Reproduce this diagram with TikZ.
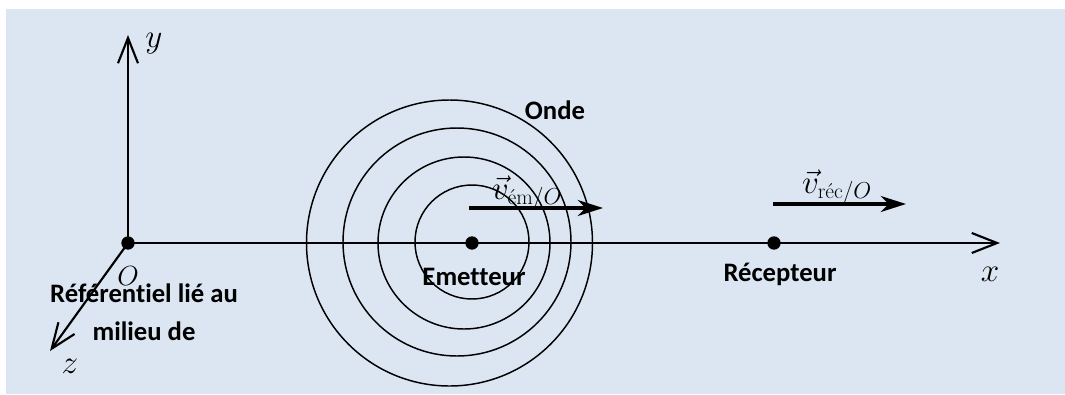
\documentclass[tikz,border=0pt]{standalone}
\usepackage{amsmath}
\usepackage{fontspec}
\newfontfamily\calibrifont[Ligatures=NoCommon]{Carlito}
\usetikzlibrary{arrows.meta}
\definecolor{bgblue}{RGB}{220,230,242}
\begin{document}
\begin{tikzpicture}[x=0.75pt,y=-0.75pt,
  axisline/.style={line width=1.6pt,-{Straight Barb[length=19pt,width=15pt,line width=1.6pt]}},
  velarrow/.style={line width=2.6pt,-{Stealth[length=19pt,width=12pt,inset=6pt]}},
  wave/.style={line width=1.1pt},
  pointdot/.style={circle,fill=black,inner sep=0pt,minimum size=10pt},
  axlabel/.style={font=\fontsize{24}{28}\selectfont,inner sep=0pt},
  vlabel/.style={font=\fontsize{23}{26}\selectfont,inner sep=0pt},
  txt/.style={font=\calibrifont\fontsize{20}{28.5}\selectfont\bfseries,inner sep=0pt,align=center}]
\useasboundingbox (0,0) rectangle (1065,394);
\fill[bgblue] (6,9) rectangle (1065,394);
% waves
\node[wave,draw,circle,minimum size=214.5pt,inner sep=0pt] (w4) at (449.5,243) {};
\node[wave,draw,circle,minimum size=171pt,inner sep=0pt] (w3) at (457,242) {};
\node[wave,draw,circle,minimum size=129pt,inner sep=0pt] (w2) at (464,243) {};
\node[wave,draw,circle,minimum size=85.5pt,inner sep=0pt] (w1) at (472,242) {};
% points
\node[pointdot] (O) at (128,243) {};
\node[pointdot] (E) at (472,243) {};
\node[pointdot] (R) at (774,243) {};
\coordinate (ytip) at (128,35);
\coordinate (xtip) at (1000,243);
\coordinate (ztip) at (50,351);
% axes
\draw[axisline] (O.center) -- (ytip);
\draw[axisline] (O.center) -- (xtip);
\draw[axisline] (O.center) -- (ztip);
% velocities
\coordinate (vea) at (469,208);
\coordinate (veb) at (603,208);
\coordinate (vra) at (773,204);
\coordinate (vrb) at (906,204);
\draw[velarrow] (vea) -- (veb);
\draw[velarrow] (vra) -- (vrb);
% labels
\node[axlabel] (ly) at (154,44) {$y$};
\node[axlabel] (lx) at (990,274) {$x$};
\node[axlabel] (lz) at (70,366) {$z$};
\node[axlabel,font=\fontsize{21}{24}\selectfont] (lO) at (128,276) {$O$};
\node[vlabel] (lve) at (527,193) {$\vec{v}_{\text{ém}/O}$};
\node[vlabel] (lvr) at (837,187) {$\vec{v}_{\text{réc}/O}$};
\node[txt] (ref) at (144,312) {Référentiel lié au\\milieu de};
\node[txt] (em) at (474,277) {Emetteur};
\node[txt] (onde) at (555,110) {Onde};
\node[txt] (rec) at (780,274) {Récepteur};
\end{tikzpicture}
\end{document}
